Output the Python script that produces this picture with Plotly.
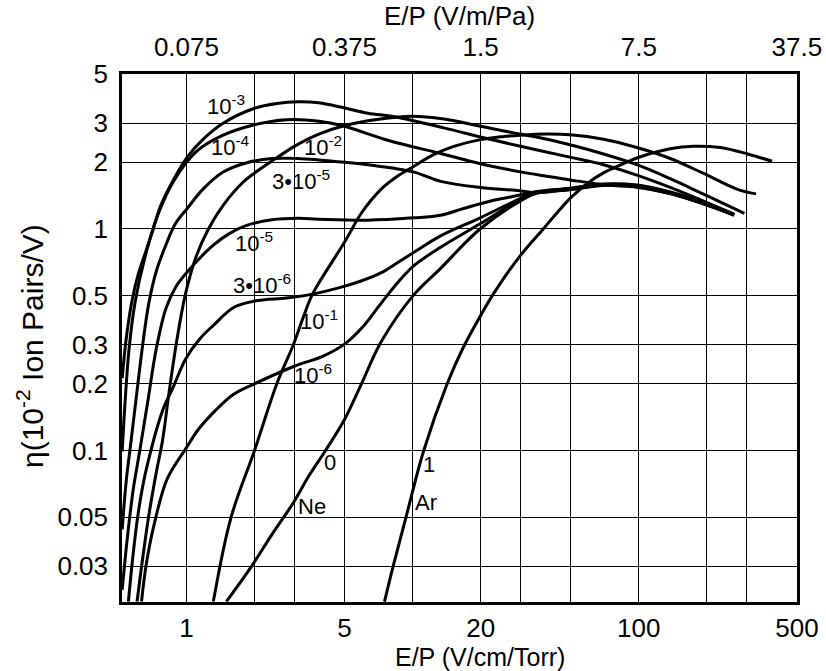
import math
import plotly.graph_objects as go

# Ionisation coefficient eta (10^-2 ion pairs per volt) of Ne-Ar Penning mixtures
# versus reduced field E/P (V/cm/Torr); one pair of lists per argon fraction.

ep_ar = [7.51, 8.2, 9.35, 11.2, 14.22, 16.7, 19.8, 23.06, 30.0, 37.8, 44.0, 50.6, 60.0,
         69.8, 88.5, 98, 137.6, 174.6, 229, 303, 388.6]
eta_ar = [0.0208, 0.03, 0.05, 0.1, 0.2, 0.29, 0.40, 0.52, 0.76, 1.0, 1.2, 1.40, 1.62,
          1.79, 2.0, 2.09, 2.30, 2.36, 2.33, 2.18, 2.02]

ep_1e1 = [1.315, 1.574, 2.0, 2.51, 2.97, 3.27, 3.61, 5.02, 5.94, 7.3, 8.5, 10.05, 12.43,
          15.22, 19.94, 25.0, 30.0, 39.1, 49.7, 69.8, 98, 137.6, 193.4, 273, 330]
eta_1e1 = [0.0208, 0.0498, 0.1, 0.2, 0.3, 0.394, 0.508, 0.877, 1.18, 1.52, 1.72, 1.91, 2.17,
           2.36, 2.53, 2.61, 2.65, 2.68, 2.66, 2.54, 2.33, 2.08, 1.78, 1.51, 1.44]

ep_1e2 = [0.605, 0.635, 0.681, 0.738, 0.783, 0.84, 0.91, 0.99, 1.099, 1.251, 1.453, 1.774,
          2.0, 2.43, 3.0, 3.85, 5.02, 6.8, 9.95, 13.75, 19.94, 29.8, 35.3, 49.7, 69.8, 98,
          137.6, 193.4, 293]
eta_1e2 = [0.0208, 0.0305, 0.0505, 0.0809, 0.11, 0.1863, 0.321, 0.508, 0.741, 1.0, 1.278, 1.62,
           1.787, 2.05, 2.36, 2.68, 2.93, 3.11, 3.23, 3.135, 2.91, 2.68, 2.60, 2.40, 2.18, 1.95,
           1.687, 1.435, 1.176]

ep_1e3 = [0.52, 0.542, 0.573, 0.611, 0.655, 0.702, 0.773, 0.883, 1.008, 1.19, 1.453, 1.96,
          2.51, 3.11, 3.85, 4.86, 6.35, 8.31, 13.75, 19.94, 30.0, 49.5, 69.8, 98, 137.6,
          193.4, 264]
eta_1e3 = [0.212, 0.321, 0.467, 0.62, 0.769, 0.949, 1.288, 1.69, 2.11, 2.55, 3.0, 3.48, 3.68,
           3.75, 3.71, 3.54, 3.33, 3.21, 2.86, 2.60, 2.36, 2.11, 1.95, 1.75, 1.54, 1.335, 1.16]

ep_1e4 = [0.52, 0.536, 0.558, 0.593, 0.655, 0.747, 0.883, 1.114, 1.453, 1.96, 2.77, 3.86,
          4.86, 7.9, 13.3, 19.94, 30.0, 39.1, 50.5, 72.2, 98, 137, 193.4, 264]
eta_1e4 = [0.099, 0.168, 0.289, 0.467, 0.743, 1.156, 1.66, 2.25, 2.65, 2.94, 3.11, 3.06, 2.93,
           2.50, 2.19, 1.97, 1.81, 1.73, 1.66, 1.578, 1.544, 1.447, 1.30, 1.153]

ep_3e5 = [0.52, 0.542, 0.569, 0.605, 0.642, 0.681, 0.738, 0.807, 0.892, 1.008, 1.19, 1.453,
          1.833, 2.39, 3.11, 3.85, 5.02, 6.33, 10.05, 13.3, 19.94, 29.8, 35.3, 49.5, 69.8,
          98, 137.6, 193.4, 264]
eta_3e5 = [0.044, 0.0731, 0.11, 0.186, 0.305, 0.459, 0.651, 0.834, 1.052, 1.237, 1.52, 1.806,
           1.985, 2.08, 2.08, 2.05, 2.0, 1.95, 1.81, 1.64, 1.54, 1.487, 1.455, 1.511, 1.578,
           1.561, 1.455, 1.306, 1.16]

ep_1e5 = [0.52, 0.547, 0.581, 0.623, 0.677, 0.736, 0.813, 0.9, 1.008, 1.17, 1.315, 1.528,
          1.833, 2.39, 3.11, 3.85, 6.33, 10.05, 13.3, 16.8, 23.06, 30.8, 35.3, 49.5, 69.8, 98,
          137.6, 193.4, 264]
eta_1e5 = [0.0235, 0.0396, 0.066, 0.1007, 0.17, 0.289, 0.44, 0.55, 0.639, 0.755, 0.845, 0.945,
           1.035, 1.10, 1.117, 1.107, 1.095, 1.122, 1.153, 1.237, 1.35, 1.43, 1.475, 1.528,
           1.595, 1.578, 1.47, 1.32, 1.166]

ep_3e6 = [0.554, 0.581, 0.611, 0.648, 0.695, 0.745, 0.799, 0.868, 0.992, 1.152, 1.315, 1.63,
          2.06, 2.77, 3.61, 5.02, 6.0, 7.27, 8.5, 10.05, 13.3, 19.8, 30.8, 35.3, 49.5, 69.8,
          98, 137.6, 193.4, 264]
eta_3e6 = [0.0208, 0.0339, 0.0514, 0.0731, 0.099, 0.1287, 0.159, 0.19, 0.259, 0.321, 0.367,
           0.444, 0.475, 0.488, 0.508, 0.552, 0.585, 0.635, 0.70, 0.78, 0.93, 1.12, 1.39,
           1.463, 1.52, 1.587, 1.57, 1.463, 1.313, 1.16]

ep_1e6 = [0.633, 0.666, 0.723, 0.823, 1.0, 1.133, 1.338, 1.606, 2.0, 3.0, 4.0, 5.0, 6.0, 7.0,
          8.31, 10.05, 13.3, 19.8, 30.8, 35.3, 49.5, 69.8, 98, 137.6, 193.4, 264]
eta_1e6 = [0.0208, 0.0311, 0.0472, 0.0746, 0.103, 0.125, 0.151, 0.1786, 0.2, 0.24, 0.266,
           0.302, 0.36, 0.44, 0.55, 0.678, 0.826, 1.052, 1.379, 1.455, 1.508, 1.578, 1.561,
           1.45, 1.302, 1.16]

ep_ne = [1.502, 1.94, 2.39, 2.96, 3.48, 4.12, 5.0, 5.94, 7.27, 10.05, 13.3, 19.8, 30.8, 35.3,
         49.5, 69.8, 98, 137.6, 193.4, 264]
eta_ne = [0.0208, 0.03, 0.0418, 0.0578, 0.0769, 0.1, 0.138, 0.2, 0.31, 0.5, 0.664, 0.997,
          1.36, 1.447, 1.502, 1.57, 1.552, 1.444, 1.296, 1.156]

# axis ticks: grid at every value, labels only where given
x_grid = [1, 2, 3, 5, 10, 20, 30, 50, 100, 200, 300, 500]
x_bottom_text = ["1", "", "", "5", "", "20", "", "", "100", "", "", "500"]
x_top_vals = [1, 5, 20, 100, 500]
x_top_text = ["0.075", "0.375", "1.5", "7.5", "37.5"]
y_grid = [0.03, 0.05, 0.1, 0.2, 0.3, 0.5, 1, 2, 3, 5]
y_text = ["0.03", "0.05", "0.1", "0.2", "0.3", "0.5", "1", "2", "3", "5"]

series = [
    ("Ar", ep_ar, eta_ar), ("1e-1", ep_1e1, eta_1e1), ("1e-2", ep_1e2, eta_1e2),
    ("1e-3", ep_1e3, eta_1e3), ("1e-4", ep_1e4, eta_1e4), ("3e-5", ep_3e5, eta_3e5),
    ("1e-5", ep_1e5, eta_1e5), ("3e-6", ep_3e6, eta_3e6), ("1e-6", ep_1e6, eta_1e6),
    ("Ne", ep_ne, eta_ne),
]

# curve captions: (text, E/P, eta)
captions = [
    ("10<sup>-3</sup>", 1.50, 3.62),
    ("10<sup>-4</sup>", 1.56, 2.36),
    ("10<sup>-2</sup>", 4.0, 2.36),
    ("3•10<sup>-5</sup>", 3.21, 1.67),
    ("10<sup>-5</sup>", 1.98, 0.87),
    ("3•10<sup>-6</sup>", 2.16, 0.565),
    ("10<sup>-1</sup>", 3.85, 0.39),
    ("10<sup>-6</sup>", 3.62, 0.222),
    ("0", 4.33, 0.0886),
    ("Ne", 3.59, 0.0558),
    ("1", 11.8, 0.0868),
    ("Ar", 11.47, 0.058),
]

FONT = "Liberation Sans, Arial, Helvetica, sans-serif"
x_range = [math.log10(0.519), math.log10(500.5)]
y_range = [math.log10(0.0207), math.log10(5.005)]

fig = go.Figure()
for name, ep, eta in series:
    fig.add_trace(go.Scatter(
        x=ep, y=eta, mode="lines", name=name, showlegend=False, hoverinfo="skip",
        line=dict(color="black", width=3, shape="spline", smoothing=1.0),
    ))

# carrier trace for the top (SI units) axis
fig.add_trace(go.Scatter(x=[1, 500], y=[1, 1], xaxis="x2", mode="lines", opacity=0,
                         showlegend=False, hoverinfo="skip"))

for text, xv, yv in captions:
    fig.add_annotation(x=math.log10(xv), y=math.log10(yv), xref="x", yref="y", text=text,
                       showarrow=False, font=dict(family=FONT, size=22, color="black"))

tick_font = dict(family=FONT, size=26, color="black")

# axis titles
fig.add_annotation(xref="paper", yref="paper", x=0.5, y=1, yshift=58, yanchor="middle",
                   text="E/P (V/m/Pa)", showarrow=False,
                   font=dict(family=FONT, size=26, color="black"))
fig.add_annotation(xref="paper", yref="paper", x=0.53, y=0, yshift=-55, yanchor="middle",
                   text="E/P (V/cm/Torr)", showarrow=False,
                   font=dict(family=FONT, size=25, color="black"))
fig.add_annotation(xref="paper", yref="paper", x=0, y=0.5, xshift=-92, yshift=-8,
                   xanchor="center", yanchor="middle", textangle=-90,
                   text="η(10<sup>-2</sup> Ion Pairs/V)", showarrow=False,
                   font=dict(family=FONT, size=30, color="black"))

fig.update_layout(
    width=826, height=671,
    margin=dict(l=122, r=29, t=74, b=69),
    paper_bgcolor="white", plot_bgcolor="white",
    showlegend=False,
    xaxis=dict(
        type="log", range=x_range, tickmode="array", tickvals=x_grid, ticktext=x_bottom_text,
        showgrid=True, gridcolor="black", gridwidth=1.4, zeroline=False,
        showline=True, linecolor="black", linewidth=2.5, mirror=True, ticks="",
        tickfont=tick_font, ticklabelstandoff=1, automargin=False,
    ),
    xaxis2=dict(
        type="log", range=x_range, overlaying="x", side="top", anchor="y",
        tickmode="array", tickvals=x_top_vals, ticktext=x_top_text,
        showgrid=False, zeroline=False, showline=False, ticks="",
        tickfont=tick_font, ticklabelstandoff=12, automargin=False,
    ),
    yaxis=dict(
        type="log", range=y_range, tickmode="array", tickvals=y_grid, ticktext=y_text,
        showgrid=True, gridcolor="black", gridwidth=1.4, zeroline=False,
        showline=True, linecolor="black", linewidth=2.5, mirror=True, ticks="",
        tickfont=tick_font, ticklabelstandoff=6, automargin=False,
    ),
)

fig.write_html("out.html")
